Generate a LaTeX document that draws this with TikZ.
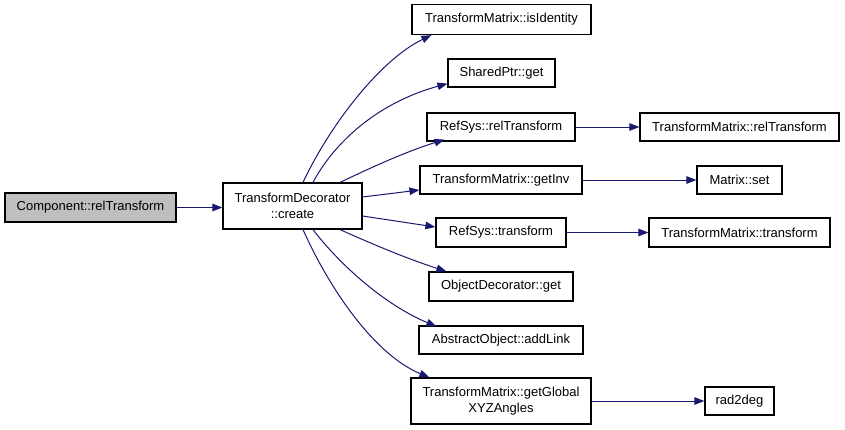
\documentclass[tikz,border=0pt]{standalone}
\usepackage{fontspec}
\setmainfont{Liberation Sans}
\usetikzlibrary{arrows.meta}
\definecolor{edgec}{HTML}{191970}
\tikzset{
  fn/.style={draw=black, line width=1.2pt, fill=white, inner sep=0pt, align=center,
    font=\fontsize{13}{15.5}\selectfont},
  edge/.style={draw=edgec, line width=1pt, -{Triangle[length=10pt,width=7.5pt]}},
}
\begin{document}
\begin{tikzpicture}[x=1pt,y=-1pt]
\useasboundingbox (0,0) rectangle (845,429);
\node[fn, fill={rgb,255:red,191;green,191;blue,191}, minimum width=171pt, minimum height=29pt] (comp) at (90.5,207.5) {Component::relTransform};
\node[fn, minimum width=139pt, minimum height=46pt] (create) at (292.5,206) {TransformDecorator\\::create};
\node[fn, minimum width=179pt, minimum height=30pt] (isid) at (501.5,19.5) {TransformMatrix::isIdentity};
\node[fn, minimum width=107pt, minimum height=28pt] (shp) at (501.5,73) {SharedPtr::get};
\node[fn, minimum width=148pt, minimum height=28pt] (rsrel) at (501,127) {RefSys::relTransform};
\node[fn, minimum width=199pt, minimum height=28pt] (tmrel) at (739.5,127) {TransformMatrix::relTransform};
\node[fn, minimum width=162pt, minimum height=28pt] (inv) at (501,180) {TransformMatrix::getInv};
\node[fn, minimum width=85pt, minimum height=28pt] (mset) at (739.5,180) {Matrix::set};
\node[fn, minimum width=130pt, minimum height=29pt] (rstr) at (501,232.5) {RefSys::transform};
\node[fn, minimum width=181pt, minimum height=29pt] (tmtr) at (739.5,232.5) {TransformMatrix::transform};
\node[fn, minimum width=144pt, minimum height=29pt] (odget) at (501,286.5) {ObjectDecorator::get};
\node[fn, minimum width=164pt, minimum height=28pt] (addl) at (501,340) {AbstractObject::addLink};
\node[fn, minimum width=180pt, minimum height=46pt] (glob) at (501,401) {TransformMatrix::getGlobal\\XYZAngles};
\node[fn, minimum width=69pt, minimum height=28pt] (rad) at (739.5,401) {rad2deg};

\draw[edge] (comp.east) -- (comp.east -| create.west);
\draw[edge] ([xshift=10.5pt]create.north) .. controls (330,125) and (380,60) .. ([xshift=20pt]isid.south west);
\draw[edge] ([xshift=20.5pt]create.north) .. controls (330,150) and (370,105) .. ([yshift=4pt]shp.south west);
\draw[edge] ([xshift=47.5pt]create.north) .. controls (370,168) and (405,152) .. ([xshift=18pt,yshift=2pt]rsrel.south west);
\draw[edge] ([yshift=9pt]create.east) -- ([yshift=-10pt]inv.west);
\draw[edge] ([yshift=-10pt]create.east) -- ([yshift=5.5pt]rstr.west);
\draw[edge] ([xshift=47.5pt]create.south) .. controls (370,243) and (405,258) .. ([xshift=18pt]odget.north west);
\draw[edge] ([xshift=20.5pt]create.south) .. controls (340,265) and (385,305) .. ([xshift=18pt,yshift=-1pt]addl.north west);
\draw[edge] ([xshift=10.5pt]create.south) .. controls (330,290) and (375,355) .. ([xshift=19pt]glob.north west);
\draw[edge] (rsrel.east) -- (tmrel.west);
\draw[edge] (inv.east) -- (mset.west);
\draw[edge] (rstr.east) -- (tmtr.west);
\draw[edge] (glob.east) -- (rad.west);
\end{tikzpicture}
\end{document}
